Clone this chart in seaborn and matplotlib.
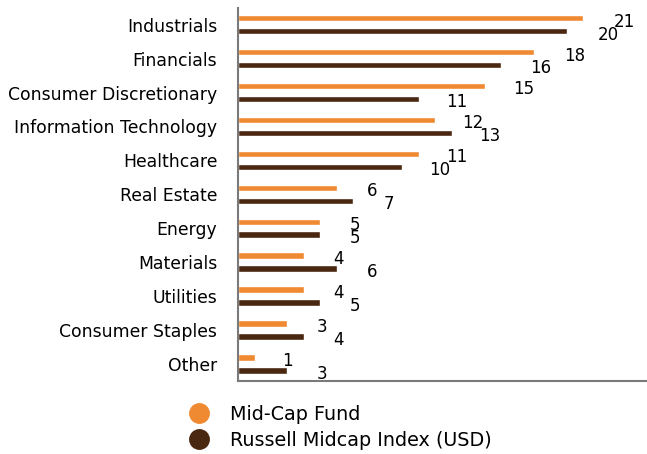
import pandas as pd
import matplotlib
matplotlib.use("Agg")
import matplotlib.pyplot as plt
from matplotlib.lines import Line2D
import seaborn as sns

sectors = ["Industrials", "Financials", "Consumer Discretionary", "Information Technology",
           "Healthcare", "Real Estate", "Energy", "Materials", "Utilities",
           "Consumer Staples", "Other"]
fund = [21, 18, 15, 12, 11, 6, 5, 4, 4, 3, 1]
index = [20, 16, 11, 13, 10, 7, 5, 6, 5, 4, 3]
series = ["Mid-Cap Fund", "Russell Midcap Index (USD)"]
colors = ["#EF8A32", "#4A2710"]

df = pd.DataFrame({
    "sector": sectors * 2,
    "weight": fund + index,
    "series": [series[0]] * len(sectors) + [series[1]] * len(sectors),
})

sns.set_style("white")
plt.rcParams["font.family"] = ["DejaVu Sans"]
plt.rcParams["text.color"] = "black"
plt.rcParams["ytick.color"] = "black"

fig = plt.figure(figsize=(6.47, 4.54), dpi=100)
ax = fig.add_axes([0.368, 0.161, 0.63, 0.822])

sns.barplot(data=df, y="sector", x="weight", hue="series", order=sectors,
            hue_order=series, palette=colors, saturation=1, orient="h",
            width=0.76, gap=0.5, legend=False, ax=ax)

# value labels to the right of each bar
for i, (f, r) in enumerate(zip(fund, index)):
    ax.text(f * 1.025 + 2.0, i - 0.19 + 0.1, str(f), ha="center", va="center", fontsize=12)
    ax.text(r * 1.025 + 2.0, i + 0.19 + 0.1, str(r), ha="center", va="center", fontsize=12)

ax.set_xlim(0, 24.8)
ax.set_ylim(10.5, -0.5)
ax.set_xlabel("")
ax.set_ylabel("")
ax.set_xticks([])
ax.tick_params(axis="y", length=0, pad=15, labelsize=12.4, labelcolor="black")
for s in ["top", "right"]:
    ax.spines[s].set_visible(False)
for s in ["left", "bottom"]:
    ax.spines[s].set_color("#7a7a7a")
    ax.spines[s].set_linewidth(1.5)

handles = [Line2D([], [], marker="o", linestyle="", markersize=14, color=c) for c in colors]
fig.legend(handles, series, loc="upper left", bbox_to_anchor=(0.266, 0.125), frameon=False,
           fontsize=13.8, handletextpad=0.6, labelspacing=0.35, borderaxespad=0)

fig.savefig("out.png", dpi=100)
